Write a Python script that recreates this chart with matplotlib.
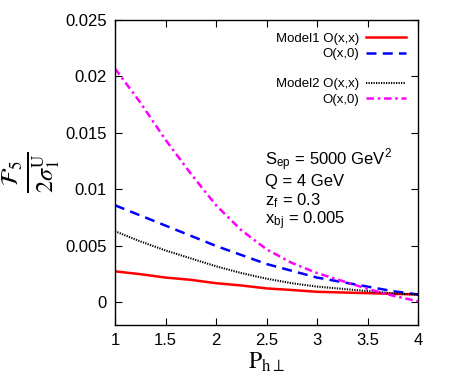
import matplotlib
matplotlib.use('Agg')
import matplotlib.pyplot as plt
import numpy as np

plt.rcParams['font.family'] = ['Liberation Sans', 'DejaVu Sans']
plt.rcParams['mathtext.fontset'] = 'stix'

# P_h_perp grid and curve values
p_perp = [1.0, 1.25, 1.5, 1.75, 2.0, 2.25, 2.5, 2.75, 3.0, 3.25, 3.5, 3.75, 4.0]
m1_xx = [0.00275, 0.0025, 0.0022, 0.0020, 0.0017, 0.0015, 0.00124, 0.0011, 0.00094, 0.00088, 0.00082, 0.00076, 0.0007]
m1_x0 = [0.0086, 0.0077, 0.0068, 0.0059, 0.0050, 0.0042, 0.0034, 0.0028, 0.0022, 0.0018, 0.0014, 0.0010, 0.0007]
m2_xx = [0.0063, 0.0054, 0.0046, 0.0039, 0.0032, 0.0026, 0.0021, 0.0017, 0.0014, 0.0012, 0.0010, 0.0008, 0.0007]
m2_x0 = [0.0207, 0.0177, 0.0144, 0.0114, 0.0086, 0.0064, 0.0047, 0.0035, 0.0026, 0.0019, 0.0012, 0.0006, 0.0001]

xticks = [1, 1.5, 2, 2.5, 3, 3.5, 4]
xticklabels = ['1', '1.5', '2', '2.5', '3', '3.5', '4']
yticks = [0, 0.005, 0.01, 0.015, 0.02, 0.025]
yticklabels = ['0', '0.005', '0.01', '0.015', '0.02', '0.025']

fig = plt.figure(figsize=(4.5, 3.82), dpi=100)
ax = fig.add_axes([0.2556, 0.1492, 0.6733, 0.7984])

l1, = ax.plot(p_perp, m1_xx, color='red', lw=1.8, ls='-')
l2, = ax.plot(p_perp, m1_x0, color='blue', lw=1.8, dashes=(4, 2.5))
l3, = ax.plot(p_perp, m2_xx, color='black', lw=1.5, dashes=(0.6, 0.6))
l4, = ax.plot(p_perp, m2_x0, color='magenta', lw=1.8, dashes=(3, 1.5, 1, 1.5))

ax.set_xlim(1, 4)
ax.set_ylim(-0.002, 0.025)
ax.set_xticks(xticks)
ax.set_xticklabels(xticklabels)
ax.set_yticks(yticks)
ax.set_yticklabels(yticklabels)
ax.tick_params(direction='in', length=5, width=0.8, top=True, right=True,
               labelsize=12, pad=6)
for s in ax.spines.values():
    s.set_linewidth(1.0)

ax.set_xlabel(r'$\mathrm{P}_{\mathrm{h}\perp}$', fontsize=17, labelpad=2)
ax.set_ylabel(r'$\frac{\mathcal{F}_5}{2\sigma_1^{\mathrm{U}}}$', fontsize=25, labelpad=2)

leg1 = ax.legend([l1, l2], ['Model1 O(x,x)', 'O(x,0)'], loc='upper right',
                 bbox_to_anchor=(0.985, 0.985), frameon=False, markerfirst=False,
                 fontsize=9.5, handlelength=3.0, handletextpad=0.5,
                 labelspacing=0.25, borderaxespad=0.2)
for t in leg1.get_texts():
    t.set_ha('right')
ax.add_artist(leg1)
leg2 = ax.legend([l3, l4], ['Model2 O(x,x)', 'O(x,0)'], loc='upper right',
                 bbox_to_anchor=(0.985, 0.835), frameon=False, markerfirst=False,
                 fontsize=9.5, handlelength=3.0, handletextpad=0.5,
                 labelspacing=0.25, borderaxespad=0.2)
for t in leg2.get_texts():
    t.set_ha('right')

info = [r'S$_\mathregular{ep}$ = 5000 GeV$^\mathregular{2}$',
        r'Q = 4 GeV',
        r'z$_\mathregular{f}$ = 0.3',
        r'x$_\mathregular{bj}$ = 0.005']
for i, s in enumerate(info):
    ax.text(0.495, 0.52 - i * 0.064, s, transform=ax.transAxes,
            fontsize=12, ha='left', va='baseline')

fig.savefig('out.png', dpi=100)
